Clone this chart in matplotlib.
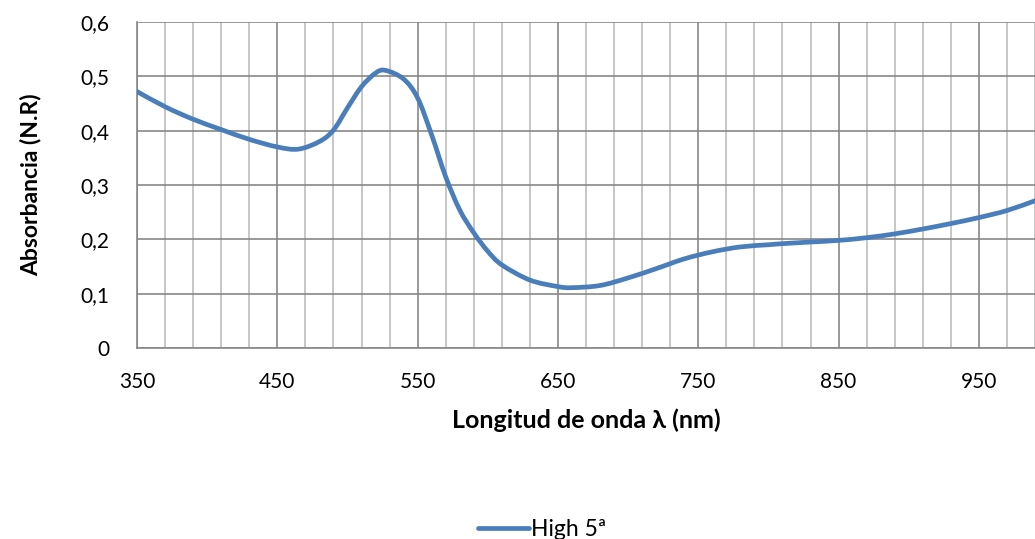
import numpy as np
import matplotlib.pyplot as plt
from matplotlib.path import Path
from matplotlib.patches import PathPatch
from matplotlib.lines import Line2D
from matplotlib.ticker import MultipleLocator, FuncFormatter

# wavelength (nm) and absorbance
wavelength = [350, 370, 390, 410, 430, 450, 465, 480, 490, 500, 510, 520, 527,
              540, 550, 560, 570, 580, 590, 600, 610, 630, 650, 660, 680, 700,
              720, 740, 760, 780, 800, 810, 830, 850, 870, 890, 910, 930, 950,
              970, 990]
absorbance = [0.472, 0.444, 0.421, 0.402, 0.384, 0.370, 0.366, 0.380, 0.401, 0.442,
              0.481, 0.506, 0.511, 0.495, 0.460, 0.392, 0.315, 0.254, 0.212, 0.178,
              0.153, 0.125, 0.113, 0.111, 0.115, 0.129, 0.146, 0.164, 0.177, 0.186,
              0.190, 0.192, 0.195, 0.198, 0.203, 0.210, 0.219, 0.229, 0.240,
              0.253, 0.271]
series_name = 'High 5ª'
line_color = '#4A7EBB'

plt.rcParams['font.family'] = ['Lato', 'DejaVu Sans']

fig = plt.figure(figsize=(10.35, 5.39), dpi=100)
ax = fig.add_axes([0.1324, 0.3544, 0.8676, 0.6048])


def smooth_path(x, y, t=1 / 6):
    # Excel style smoothed line: Catmull-Rom segments as cubic Beziers
    x = np.asarray(x, float)
    y = np.asarray(y, float)
    n = len(x)
    verts = [(x[0], y[0])]
    codes = [Path.MOVETO]
    for i in range(n - 1):
        p0 = i - 1 if i > 0 else i
        p3 = i + 2 if i + 2 < n else i + 1
        c1 = (x[i] + (x[i + 1] - x[p0]) * t, y[i] + (y[i + 1] - y[p0]) * t)
        c2 = (x[i + 1] - (x[p3] - x[i]) * t, y[i + 1] - (y[p3] - y[i]) * t)
        verts += [c1, c2, (x[i + 1], y[i + 1])]
        codes += [Path.CURVE4] * 3
    return Path(verts, codes)


ax.add_patch(PathPatch(smooth_path(wavelength, absorbance), fill=False,
                       edgecolor=line_color, lw=3.4, capstyle='round',
                       joinstyle='round', zorder=3))

ax.set_xlim(350, 990)
ax.set_ylim(0, 0.6)
ax.xaxis.set_major_locator(MultipleLocator(100, offset=50))
ax.xaxis.set_minor_locator(MultipleLocator(20, offset=10))
ax.yaxis.set_major_locator(MultipleLocator(0.1))
ax.yaxis.set_major_formatter(FuncFormatter(
    lambda v, p: '0' if abs(v) < 1e-9 else f'{v:.1f}'.replace('.', ',')))

ax.grid(which='major', color='#878787', lw=1.2)
ax.grid(which='minor', axis='x', color='#BEBEBE', lw=1.2)
ax.set_axisbelow(True)
for s in ['top', 'right']:
    ax.spines[s].set_visible(False)
for s in ['left', 'bottom']:
    ax.spines[s].set_color('#878787')
    ax.spines[s].set_linewidth(1.2)

ax.tick_params(which='both', length=0, labelsize=15, colors='black')
ax.tick_params(axis='x', pad=17)
ax.tick_params(axis='y', pad=20)

ax.set_xlabel('Longitud de onda λ (nm)', fontsize=18, fontweight='bold',
              labelpad=12)
ax.set_ylabel('Absorbancia (N.R)', fontsize=16.5, fontweight='bold',
              labelpad=28)

handle = Line2D([], [], color=line_color, lw=3.4, solid_capstyle='round')
fig.legend([handle], [series_name], loc='center',
           bbox_to_anchor=(0.524, 0.017), frameon=False, fontsize=16.5,
           handlelength=2.2, handletextpad=0.1)

fig.savefig('out.png', dpi=100)
